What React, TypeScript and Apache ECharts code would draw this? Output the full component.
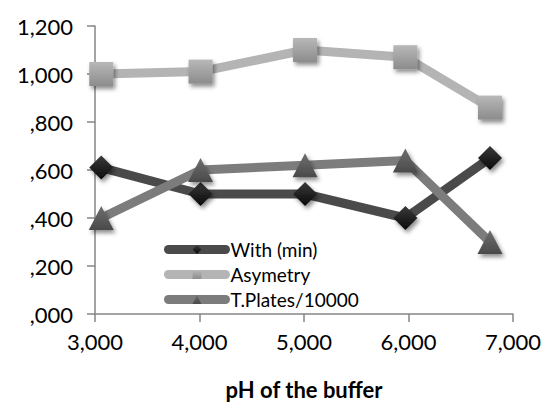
import React, { useEffect, useRef } from "react";
import * as echarts from "echarts";

const phValues = [3060, 4010, 5010, 5970, 6780];
const withMin = [0.61, 0.5, 0.5, 0.4, 0.65];
const asymetry = [1.0, 1.01, 1.1, 1.07, 0.86];
const tPlates = [0.4, 0.6, 0.62, 0.64, 0.3];
const seriesNames = ["With (min)", "Asymetry", "T.Plates/10000"];

const FONT = "Lato, 'Open Sans', sans-serif";

function grad(top: string, bottom: string) {
  return new echarts.graphic.LinearGradient(0, 0, 0, 1, [
    { offset: 0, color: top },
    { offset: 1, color: bottom },
  ]);
}

export default function App() {
  const ref = useRef<HTMLDivElement>(null);
  useEffect(() => {
    if (!ref.current) return;
    const chart = echarts.init(ref.current, null, { renderer: "svg" });
    const pairs = (ys: number[]) => phValues.map((x, i) => [x, ys[i]]);
    const shadow = {
      shadowBlur: 4,
      shadowOffsetX: 2,
      shadowOffsetY: 3,
      shadowColor: "rgba(0,0,0,0.45)",
    };
    chart.setOption({
      animation: false,
      backgroundColor: "#ffffff",
      grid: { left: 95, right: 35, top: 26, bottom: 84, containLabel: false },
      legend: {
        orient: "vertical",
        left: 159,
        top: 235,
        itemWidth: 57,
        itemHeight: 11,
        itemGap: 6,
        lineStyle: { width: 9, cap: "round" },
        itemStyle: { shadowBlur: 0, shadowOffsetX: 0, shadowOffsetY: 0 },
        textStyle: { fontFamily: FONT, fontSize: 19, color: "#000" },
        data: seriesNames,
      },
      xAxis: {
        type: "value",
        min: 3000,
        max: 7000,
        interval: 1000,
        name: "pH of the buffer",
        nameLocation: "middle",
        nameGap: 64,
        nameTextStyle: { fontFamily: FONT, fontSize: 22, fontWeight: "bold", color: "#000" },
        axisLine: { show: true, lineStyle: { color: "#868686", width: 1.5 } },
        axisTick: { show: true, length: 8, lineStyle: { color: "#868686", width: 1.5 } },
        splitLine: { show: false },
        axisLabel: {
          margin: 16,
          fontFamily: FONT,
          fontSize: 22,
          color: "#000",
          formatter: (v: number) => v.toLocaleString("en-US"),
        },
      },
      yAxis: {
        type: "value",
        min: 0,
        max: 1.2,
        interval: 0.2,
        axisLine: { show: true, lineStyle: { color: "#868686", width: 1.5 } },
        axisTick: { show: true, length: 8, lineStyle: { color: "#868686", width: 1.5 } },
        splitLine: { show: false },
        axisLabel: {
          margin: 22,
          fontFamily: FONT,
          fontSize: 22,
          color: "#000",
          formatter: (v: number) => {
            const s = v.toFixed(3).replace(".", ",");
            return s.startsWith("0") ? s.slice(1) : s;
          },
        },
      },
      series: [
        {
          name: seriesNames[0],
          type: "line",
          data: pairs(withMin),
          symbol: "diamond",
          symbolSize: 24,
          lineStyle: { color: "#4a4a4a", width: 9, cap: "round" },
          itemStyle: { color: grad("#3a3a3a", "#0a0a0a"), ...shadow },
        },
        {
          name: seriesNames[1],
          type: "line",
          data: pairs(asymetry),
          symbol: "rect",
          symbolSize: 24,
          lineStyle: { color: "#b4b4b4", width: 9, cap: "round" },
          itemStyle: { color: grad("#b8b8b8", "#8c8c8c"), ...shadow },
        },
        {
          name: seriesNames[2],
          type: "line",
          data: pairs(tPlates),
          symbol: "triangle",
          symbolSize: [25, 24],
          lineStyle: { color: "#7c7c7c", width: 9, cap: "round" },
          itemStyle: { color: grad("#6e6e6e", "#4a4a4a"), ...shadow },
        },
      ],
    });
    return () => chart.dispose();
  }, []);
  return (
    <div
      ref={ref}
      style={{ position: "absolute", left: 0, top: 0, width: 548, height: 405 }}
    />
  );
}
